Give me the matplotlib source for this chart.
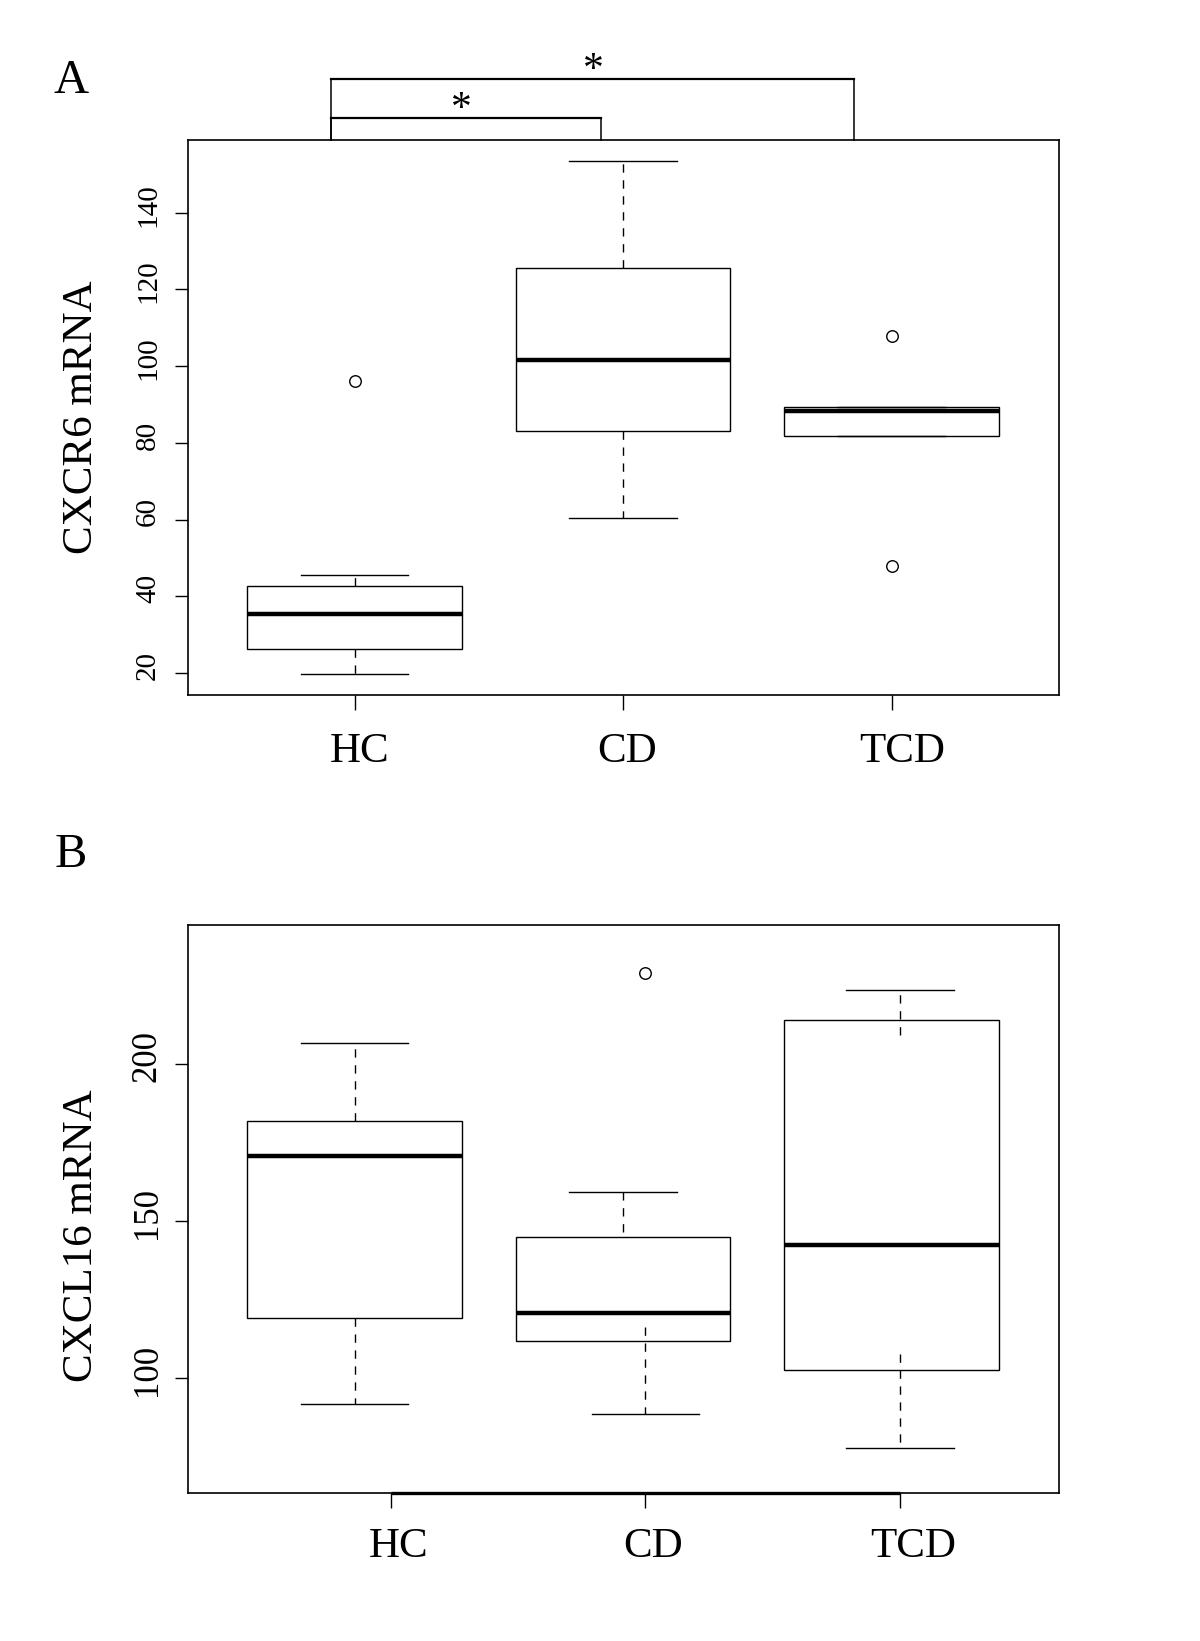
import matplotlib
matplotlib.use("Agg")
from matplotlib import pyplot as plt
from matplotlib import patches as mpatch
from matplotlib import transforms as mtrans

plt.rcParams['font.family'] = ['Liberation Serif', 'DejaVu Serif']

# ---- data -------------------------------------------------------------
groups = ['HC', 'CD', 'TCD']

# panel A : CXCR6 mRNA
a_q1 = [26.4, 83.0, 81.7]
a_med = [35.5, 101.6, 88.3]
a_q3 = [42.6, 125.5, 89.5]
a_whislo = [19.7, 60.5, 81.7]
a_whishi = [45.6, 153.5, 89.5]
a_fliers = [[96.1], [], [107.9, 47.9]]
a_yticks = [20, 40, 60, 80, 100, 120, 140]

# panel B : CXCL16 mRNA
b_q1 = [119.0, 111.9, 102.6]
b_med = [170.8, 120.6, 142.5]
b_q3 = [181.8, 145.1, 214.1]
b_whislo = [91.8, 88.6, 77.7]
b_whishi = [206.7, 159.2, 223.5]
b_whis_up_from = [181.8, 146.7, 209.4]   # dashed part starts here
b_whis_lo_from = [119.0, 116.3, 107.7]
b_fliers = [[], [229.0], []]
b_yticks = [100, 150, 200]

# ---- layout -----------------------------------------------------------
W, H = 1200, 1641
BOX_W = 0.8
CAP_W = 0.4
XLIM = (0.381, 3.623)
DASH = (0, (6, 5.5))

pos = [1, 2, 3]
# panel B has its ticks / whiskers shifted a little to the right
b_ticks = [1.135, 2.083, 3.032]
b_whis_up_x = [1.0, 2.0, 3.032]
b_whis_lo_x = [1.0, 2.083, 3.032]
a_lab_x = [1.019, 2.016, 3.038]
b_lab_x = [1.164, 2.114, 3.082]


def fx(px):
    return px / W


def fy(px):
    return 1 - px / H


def draw_group(ax, x, q1, med, q3, lo, hi, lo_from, hi_from, x_lo, x_hi):
    ax.add_patch(mpatch.Rectangle((x - BOX_W / 2, q1), BOX_W, q3 - q1,
                                  fill=False, ec='black', lw=1.0, zorder=3))
    ax.plot([x - BOX_W / 2, x + BOX_W / 2], [med, med], color='black',
            lw=3.2, solid_capstyle='butt', zorder=4)
    ax.plot([x_hi, x_hi], [hi_from, hi], color='black', lw=1.0, ls=DASH, zorder=2)
    ax.plot([x_hi - CAP_W / 2, x_hi + CAP_W / 2], [hi, hi], color='black', lw=1.0, zorder=2)
    ax.plot([x_lo, x_lo], [lo_from, lo], color='black', lw=1.0, ls=DASH, zorder=2)
    ax.plot([x_lo - CAP_W / 2, x_lo + CAP_W / 2], [lo, lo], color='black', lw=1.0, zorder=2)


def style_axes(ax, ylim, yticks, ytick_size, ypad, ticks, lab_x, lab_base):
    ax.set_xlim(*XLIM)
    ax.set_ylim(*ylim)
    for s in ax.spines.values():
        s.set_linewidth(1.2)
    ax.set_xticks(ticks)
    ax.set_xticklabels([])
    ax.set_yticks(yticks)
    ax.set_yticklabels([str(t) for t in yticks])
    ax.tick_params(axis='x', length=10.5, width=1.0, direction='out')
    ax.tick_params(axis='y', length=9.6, width=1.0, direction='out',
                   labelsize=ytick_size, labelrotation=90, pad=ypad)
    shift = mtrans.ScaledTranslation(0, 8 / 100, ax.figure.dpi_scale_trans)
    for lab in ax.get_yticklabels():
        lab.set_va('center')
        lab.set_transform(lab.get_transform() + shift)
    trans = mtrans.blended_transform_factory(ax.transData, ax.transAxes)
    for x, g in zip(lab_x, groups):
        ax.text(x, lab_base, g, transform=trans, ha='center', va='baseline',
                fontsize=31, clip_on=False)


fig = plt.figure(figsize=(W / 100, H / 100), dpi=100)

# ---- panel A ----------------------------------------------------------
axA = fig.add_axes([fx(188.3), fy(694.7), fx(870.5), 554.5 / H])
for i, x in enumerate(pos):
    draw_group(axA, x, a_q1[i], a_med[i], a_q3[i], a_whislo[i], a_whishi[i],
               a_q1[i], a_q3[i], x, x)
    if a_fliers[i]:
        axA.plot([x] * len(a_fliers[i]), a_fliers[i], 'o', mfc='none', mec='black',
                 ms=8.3, mew=1.0, zorder=5)
style_axes(axA, (14.4, 158.9), a_yticks, 21, 10, pos, a_lab_x, -67.0 / 554.5)

# significance brackets
br_left, br_in_right, br_out_right = 0.913, 1.919, 2.860
br_in_y, br_out_y = 164.7, 174.9
top = 158.9
axA.plot([br_left, br_left, br_in_right, br_in_right], [top, br_in_y, br_in_y, top],
         color='black', lw=1.1, clip_on=False)
axA.plot([br_left, br_left, br_out_right, br_out_right], [top, br_out_y, br_out_y, top],
         color='black', lw=1.1, clip_on=False)
axA.plot([br_left, br_in_right], [br_in_y, br_in_y], color='black', lw=1.6, clip_on=False)
axA.plot([br_left, br_out_right], [br_out_y, br_out_y], color='black', lw=1.6, clip_on=False)
axA.text(1.398, br_in_y - 0.6, '*', ha='center', va='baseline', fontsize=30, clip_on=False)
axA.text(1.888, br_out_y - 0.6, '*', ha='center', va='baseline', fontsize=30, clip_on=False)

fig.text(fx(92), fy(417), 'CXCR6 mRNA', rotation=90, rotation_mode='anchor',
         ha='center', va='baseline', fontsize=31)
fig.text(fx(70.8), fy(93.3), 'A', ha='center', va='baseline', fontsize=35)

# ---- panel B ----------------------------------------------------------
axB = fig.add_axes([fx(188.3), fy(1493.0), fx(870.5), 568.1 / H])
for i, x in enumerate(pos):
    draw_group(axB, x, b_q1[i], b_med[i], b_q3[i], b_whislo[i], b_whishi[i],
               b_whis_lo_from[i], b_whis_up_from[i], b_whis_lo_x[i], b_whis_up_x[i])
    if b_fliers[i]:
        axB.plot([b_whis_lo_x[i]] * len(b_fliers[i]), b_fliers[i], 'o', mfc='none',
                 mec='black', ms=8.3, mew=1.0, zorder=5)
style_axes(axB, (63.4, 244.4), b_yticks, 25, 8, b_ticks, b_lab_x, -64.4 / 568.1)
axB.plot([b_ticks[0], b_ticks[-1]], [63.4, 63.4], color='black', lw=2.4,
         solid_capstyle='butt', clip_on=False, zorder=6)

fig.text(fx(92), fy(1236), 'CXCL16 mRNA', rotation=90, rotation_mode='anchor',
         ha='center', va='baseline', fontsize=31)
fig.text(fx(70.8), fy(867), 'B', ha='center', va='baseline', fontsize=35)

fig.savefig('out.png', dpi=100)
